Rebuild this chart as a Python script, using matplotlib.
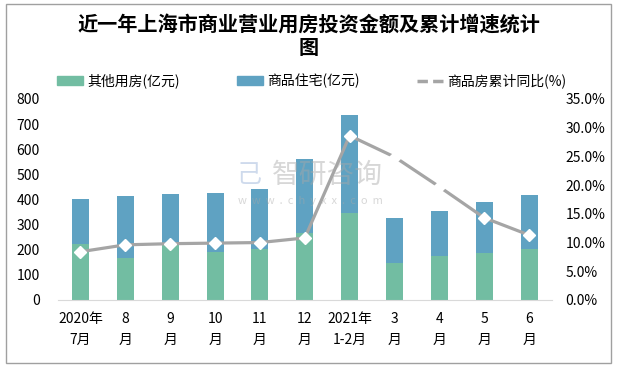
import matplotlib.pyplot as plt
from matplotlib.lines import Line2D
from matplotlib.patches import Patch, Rectangle

plt.rcParams['font.family'] = ['Noto Sans CJK SC', 'DejaVu Sans']

months = ['2020年\n7月', '8\n月', '9\n月', '10\n月', '11\n月', '12\n月',
          '2021年\n1-2月', '3\n月', '4\n月', '5\n月', '6\n月']
other = [223, 167, 223, 191, 203, 267, 347, 147, 175, 187, 203]
total = [402, 414, 422, 426, 442, 562, 737, 327, 355, 390, 418]
housing = [t - o for t, o in zip(total, other)]
growth = [8.4, 9.6, 9.8, 9.9, 10.0, 10.8, 28.6, 24.9, 19.7, 14.3, 11.3]

green = '#72BDA2'
blue = '#5FA2C2'
gray = '#A5A5A5'

fig = plt.figure(figsize=(6.17, 3.69), dpi=100)
ax = fig.add_axes([0.094, 0.187, 0.8, 0.545])
ax2 = ax.twinx()

x = list(range(len(months)))
ax.bar(x, other, width=0.38, color=green, zorder=2)
ax.bar(x, housing, width=0.38, bottom=other, color=blue, zorder=2)
ax.set_ylim(0, 800)
ax.set_yticks(range(0, 801, 100))
ax.set_xlim(-0.5, len(months) - 0.5)
ax.set_xticks(x)
ax.set_xticklabels(months, fontsize=9.5, linespacing=1.55)
ax.tick_params(axis='both', length=0, labelsize=10)
ax.tick_params(axis='y', pad=13)
ax.tick_params(axis='x', pad=9)
for s in ['top', 'right', 'left']:
    ax.spines[s].set_visible(False)
ax.spines['bottom'].set_color('#D9D9D9')

ax2.plot(x, growth, color=gray, lw=2.3, marker='D', markersize=6,
         markerfacecolor='white', markeredgecolor='white', zorder=3)
ax2.set_ylim(0, 35)
ax2.set_yticks(range(0, 36, 5))
ax2.set_yticklabels(['%.1f%%' % v for v in range(0, 36, 5)])
ax2.tick_params(axis='y', length=0, labelsize=10, pad=10)
for s in ['top', 'right', 'left', 'bottom']:
    ax2.spines[s].set_visible(False)

# watermark, drawn over the bars
fig.text(0.44, 0.525, '智研咨询', fontsize=20, color='#A8A8A8', alpha=0.45,
         ha='left', va='center', zorder=10)
fig.text(0.385, 0.455, 'w  w  w  .  c  h  y  x  x  .  c  o  m', fontsize=8,
         color='#A8A8A8', alpha=0.45, ha='left', va='center', zorder=10)
fig.text(0.404, 0.525, '己', fontsize=18, color='#9FB6DA', alpha=0.5,
         ha='center', va='center', zorder=10)

fig.text(0.5, 0.935, '近一年上海市商业营业用房投资金额及累计增速统计', fontsize=14.5,
         fontweight='bold', ha='center', va='center')
fig.text(0.5, 0.87, '图', fontsize=14.5, fontweight='bold', ha='center', va='center')

handles = [Patch(color=green, label='其他用房(亿元)'),
           Patch(color=blue, label='商品住宅(亿元)'),
           Line2D([0], [0], color=gray, lw=2.5, ls=(0, (3, 1.5)), label='商品房累计同比(%)')]
fig.legend(handles=handles, loc='center', bbox_to_anchor=(0.505, 0.78), ncol=3,
           frameon=False, fontsize=10, handlelength=1.9, handleheight=0.6,
           columnspacing=4.1, handletextpad=0.3)

fig.patches.append(Rectangle((0.01, 0.015), 0.98, 0.975, transform=fig.transFigure,
                             fill=False, edgecolor='#A0A0A0', lw=1))

fig.savefig('out.png', dpi=100)
